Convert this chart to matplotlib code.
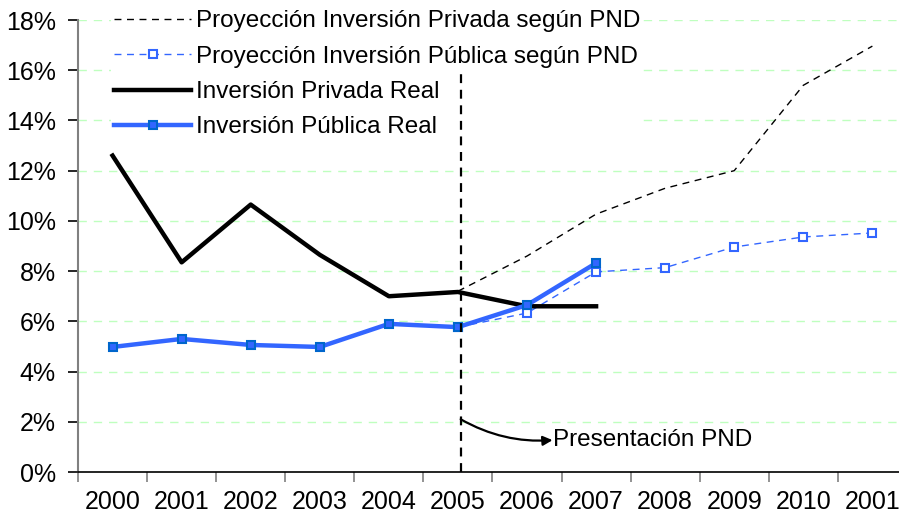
import matplotlib.pyplot as plt
import numpy as np

plt.rcParams['font.family'] = ['Liberation Sans', 'DejaVu Sans']

## datos
years = ["2000", "2001", "2002", "2003", "2004", "2005", "2006", "2007", "2008", "2009", "2010", "2001"]
priv_real = [12.6, 8.35, 10.65, 8.65, 7.0, 7.17, 6.6, 6.6]
pub_real = [4.98, 5.3, 5.06, 4.98, 5.9, 5.77, 6.65, 8.32]
priv_proy = [7.2, 8.6, 10.27, 11.3, 12.0, 15.4, 16.96]
pub_proy = [5.77, 6.33, 7.97, 8.14, 8.96, 9.36, 9.52]

x = np.arange(len(years))
x_real = x[:len(priv_real)]
x_proy = x[5:5 + len(priv_proy)]

fig = plt.figure(figsize=(8.99, 5.21), dpi=100)
ax1 = fig.add_axes([0.0868, 0.094, 0.922, 0.8676])

ax1.plot(x_proy, priv_proy, color="black", lw=1.0, ls=(0, (5, 4)),
         label="Proyección Inversión Privada según PND", zorder=3)
ax1.plot(x_proy, pub_proy, color="#3366FF", lw=1.0, ls=(0, (5, 4)), marker="s", ms=6,
         mfc="white", mec="#3366FF", mew=1.5, label="Proyección Inversión Pública según PND", zorder=3)
ax1.plot(x_real, priv_real, color="black", lw=3.2, label="Inversión Privada Real", zorder=4)
ax1.plot(x_real, pub_real, color="#3366FF", lw=3.2, marker="s", ms=6,
         mfc="#3366FF", mec="#0066CC", mew=1.5, label="Inversión Pública Real", zorder=5)

# linea de presentacion del PND
ax1.plot([5.04, 5.04], [0, 15.9], color="black", lw=1.6, ls=(0, (4, 3)), zorder=11)
ax1.annotate("", xy=(6.37, 1.27), xytext=(5.04, 2.1),
             arrowprops=dict(arrowstyle="-|>", color="black", lw=1.6, mutation_scale=14,
                             connectionstyle="arc3,rad=0.15", shrinkA=0, shrinkB=0))
ax1.text(6.37, 1.27, "Presentación PND", fontsize=17.5, va="center", ha="left")

ax1.set_xlim(-0.5, 11.5)
ax1.set_ylim(0, 18)
ax1.set_yticks(np.arange(0, 19, 2))
ax1.set_yticklabels([f"{v}%" for v in range(0, 19, 2)])
ax1.set_xticks(x)
ax1.set_xticklabels(years)
ax1.set_xticks(np.arange(-0.5, 11.6, 1), minor=True)
ax1.tick_params(axis="x", which="major", length=0, pad=13, labelsize=18)
ax1.tick_params(axis="x", which="minor", length=7, color="#808080", width=1.2)
ax1.tick_params(axis="y", length=7, width=1.2, pad=9, labelsize=18)

ax1.grid(axis="y", color="#BFFFBF", ls=(0, (6, 5)), lw=1.0)
ax1.set_axisbelow(True)
ax1.spines["top"].set_visible(False)
ax1.spines["right"].set_visible(False)
ax1.spines["left"].set_color("#808080")
ax1.spines["left"].set_linewidth(1.5)
ax1.spines["bottom"].set_linewidth(1.2)

leg = ax1.legend(loc="upper left", bbox_to_anchor=(0.04, 1.027), fontsize=17.5, frameon=True,
                 facecolor="white", edgecolor="none", framealpha=1, handlelength=3.2,
                 handletextpad=0.2, labelspacing=0.55, borderpad=0.1, borderaxespad=0)
leg.set_zorder(10)

fig.savefig("out.png", dpi=100)
